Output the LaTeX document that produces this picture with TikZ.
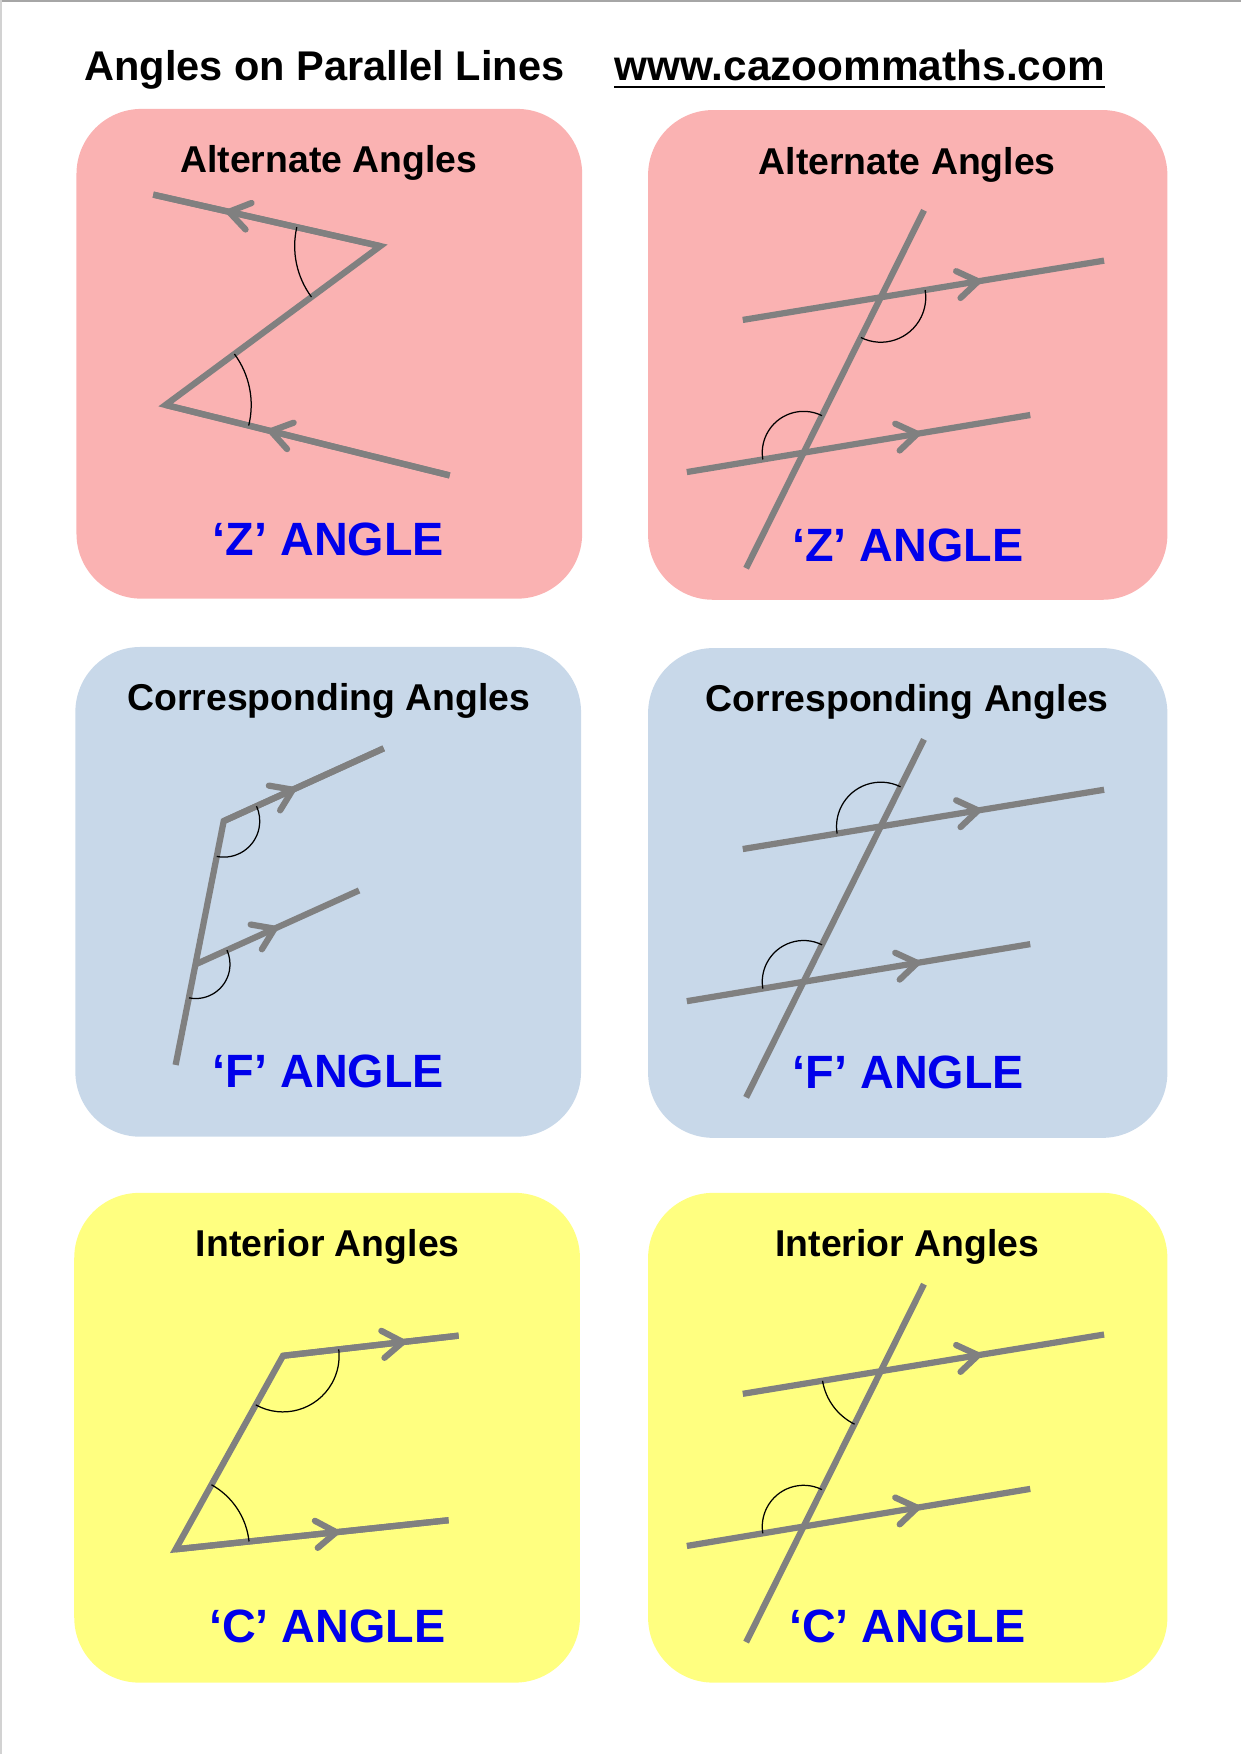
\documentclass[tikz,border=0pt]{standalone}
\usepackage{fontspec}
\setmainfont{Liberation Sans}
\usetikzlibrary{positioning,arrows.meta,decorations.markings,angles}

\definecolor{zpink}{RGB}{250,178,178}
\definecolor{fblue}{RGB}{200,216,233}
\definecolor{cyellow}{RGB}{255,255,128}
\definecolor{linegray}{RGB}{128,128,128}
\definecolor{labelblue}{RGB}{0,0,235}

\begin{document}
\begin{tikzpicture}[
    x=0.018936cm,y=-0.018936cm,
    card/.style={rectangle,rounded corners=1.1cm,inner sep=0pt,anchor=north west,minimum height=8.29cm},
    leftcard/.style={card,minimum width=8.56cm},
    rightcard/.style={card,minimum width=8.79cm},
    heading/.style={font=\fontsize{20}{24}\selectfont\bfseries,anchor=base west,inner sep=0pt},
    cardtitle/.style={font=\fontsize{18}{22}\selectfont\bfseries,anchor=base,inner sep=0pt},
    anglename/.style={font=\fontsize{22.5}{27}\selectfont\bfseries,text=labelblue,anchor=base,inner sep=0pt},
    thickline/.style={draw=linegray,line width=3pt},
    parallelline/.style={thickline,postaction={decorate},
      decoration={markings,mark=at position #1 with {\arrow[linegray]{Straight Barb[length=3.4mm,width=4.6mm,round]}}}},
    anglearc/.style={draw,line width=0.6pt}
    ]

    \useasboundingbox (0,0) rectangle (1109,1568);
    \draw[gray!70,line width=1pt] (0,1) -- (1109,1);
    \draw[gray!35,line width=0.8pt] (1,0) -- (1,1568);

    \node (heading) [heading] at (75,72) {Angles on Parallel Lines};
    \node (website) [heading,font=\fontsize{20.4}{24}\selectfont\bfseries] at (549,72) {www.cazoommaths.com};
    \draw[line width=1pt] ([yshift=-1.1mm]website.base west) -- ([yshift=-1.1mm]website.base east);

    \node (cardA) [leftcard,fill=zpink] at (68,97) {};
    \node (cardB) [rightcard,fill=zpink] at (579,98) {};
    \node (cardC) [leftcard,fill=fblue] at (67,578) {};
    \node (cardD) [rightcard,fill=fblue] at (579,579) {};
    \node (cardE) [leftcard,fill=cyellow] at (66,1066) {};
    \node (cardF) [rightcard,fill=cyellow] at (579,1066) {};

    \node (titleA) [cardtitle] at (294,154) {Alternate Angles};
    \node (titleB) [cardtitle] at (811,156) {Alternate Angles};
    \node (titleC) [cardtitle] at (294,635) {Corresponding Angles};
    \node (titleD) [cardtitle] at (811,636) {Corresponding Angles};
    \node (titleE) [cardtitle] at (293,1123) {Interior Angles};
    \node (titleF) [cardtitle] at (811,1123) {Interior Angles};

    \node (nameA) [anglename] at (293.5,497) {‘Z’ ANGLE};
    \node (nameB) [anglename] at (811.5,502) {‘Z’ ANGLE};
    \node (nameC) [anglename] at (293.5,972) {‘F’ ANGLE};
    \node (nameD) [anglename] at (812,973) {‘F’ ANGLE};
    \node (nameE) [anglename] at (292.5,1468) {‘C’ ANGLE};
    \node (nameF) [anglename] at (811,1468) {‘C’ ANGLE};

    \coordinate (a1) at (137,174);
    \coordinate (a2) at (340,220);
    \coordinate (a3) at (148,362);
    \coordinate (a4) at (402,425);
    \draw[thickline] (a1) -- (a2) -- (a3) -- (a4);
    \draw[parallelline=0.68] (a2) -- (a1);
    \draw[parallelline=0.64] (a4) -- (a3);
    \pic[anglearc,angle radius=1.45cm] {angle=a1--a2--a3};
    \pic[anglearc,angle radius=1.45cm] {angle=a4--a3--a2};

    \coordinate (c1) at (157,952);
    \coordinate (c2) at (175,862);
    \coordinate (c3) at (200,734);
    \coordinate (c4) at (343,669);
    \coordinate (c5) at (321,796);
    \draw[thickline] (c1) -- (c3) -- (c4);
    \draw[parallelline=0.45] (c3) -- (c4);
    \draw[parallelline=0.5] (c2) -- (c5);
    \pic[anglearc,angle radius=0.61cm] {angle=c1--c3--c4};
    \pic[anglearc,angle radius=0.58cm] {angle=c1--c2--c5};

    \coordinate (e1) at (157,1385);
    \coordinate (e2) at (253,1212);
    \coordinate (e3) at (410,1194);
    \coordinate (e4) at (401,1359);
    \draw[thickline] (e4) -- (e1) -- (e2) -- (e3);
    \draw[parallelline=0.7] (e2) -- (e3);
    \draw[parallelline=0.6] (e1) -- (e4);
    \pic[anglearc,angle radius=0.95cm] {angle=e1--e2--e3};
    \pic[anglearc,angle radius=1.25cm] {angle=e4--e1--e2};

    \foreach \n/\off/\from/\to/\rad in {B/0/bottom/upperright/0.76cm,D/473/top/upperleft/0.75cm,F/960/upperleft/bottom/1.0cm} {
      \begin{scope}[shift={(0,\off)}]
        \coordinate (\n top) at (826,188);
        \coordinate (\n bottom) at (667,508);
        \coordinate (\n upperleft) at (664,286);
        \coordinate (\n upperright) at (987,233);
        \coordinate (\n lowerleft) at (614,422);
        \coordinate (\n lowerright) at (921,371);
      \end{scope}
      \coordinate (\n uppercross) at (intersection of \n top--\n bottom and \n upperleft--\n upperright);
      \coordinate (\n lowercross) at (intersection of \n top--\n bottom and \n lowerleft--\n lowerright);
      \draw[thickline] (\n top) -- (\n bottom);
      \draw[parallelline=0.66] (\n upperleft) -- (\n upperright);
      \draw[parallelline=0.68] (\n lowerleft) -- (\n lowerright);
      \pic[anglearc,angle radius=\rad] {angle=\n\from--\n uppercross--\n\to};
      \pic[anglearc,angle radius=0.7cm] {angle=\n top--\n lowercross--\n lowerleft};
    }

  \end{tikzpicture}
\end{document}
